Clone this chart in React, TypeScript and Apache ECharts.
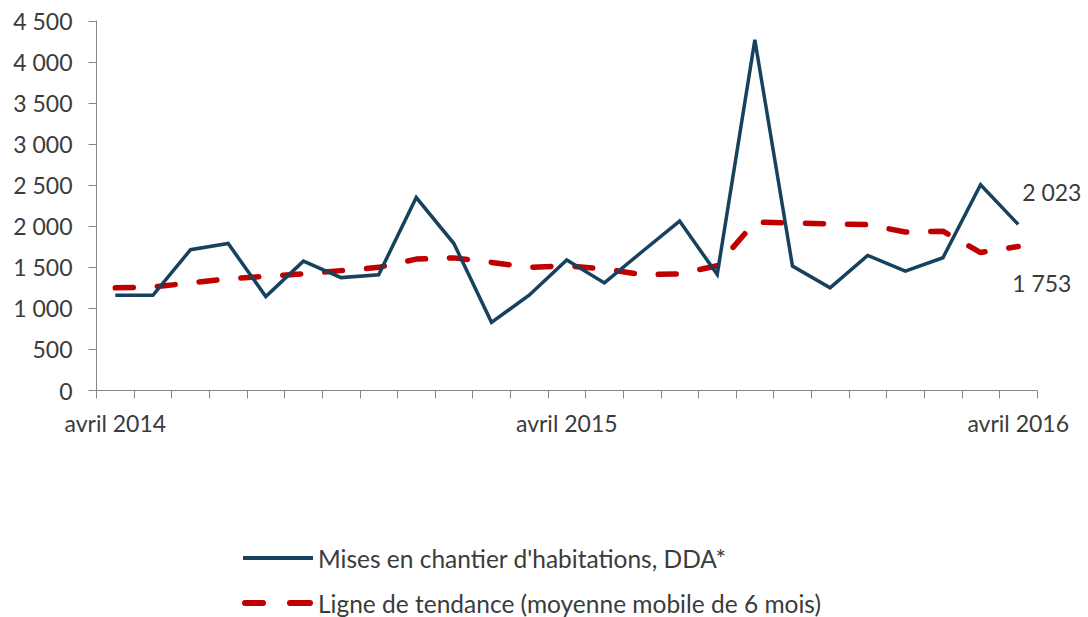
import React, { useEffect, useRef } from "react";
import * as echarts from "echarts";

const categories: string[] = [
  "avril 2014", "mai 2014", "juin 2014", "juillet 2014", "août 2014", "septembre 2014",
  "octobre 2014", "novembre 2014", "décembre 2014", "janvier 2015", "février 2015", "mars 2015",
  "avril 2015", "mai 2015", "juin 2015", "juillet 2015", "août 2015", "septembre 2015",
  "octobre 2015", "novembre 2015", "décembre 2015", "janvier 2016", "février 2016", "mars 2016",
  "avril 2016",
];
const starts: number[] = [1160, 1160, 1715, 1790, 1145, 1575, 1375, 1410, 2350, 1790, 830, 1160, 1590, 1310, 1690, 2063, 1413, 4270, 1515, 1250, 1645, 1455, 1617, 2506, 2023];
const trend: number[] = [1250, 1260, 1310, 1360, 1390, 1420, 1460, 1500, 1600, 1615, 1560, 1500, 1520, 1480, 1410, 1420, 1520, 2050, 2040, 2030, 2020, 1930, 1940, 1680, 1753];
const seriesNames = ["Mises en chantier d'habitations, DDA*", "Ligne de tendance (moyenne mobile de 6 mois)"];

const fmt = (v: number) => {
  const n = Math.round(v);
  if (n >= 1000) return `${Math.floor(n / 1000)} ${String(n % 1000).padStart(3, "0")}`;
  return String(n);
};

const FONT = "Lato";
const TXT = "#3b3b3b";
const BLUE = "#17425f";
const RED = "#c00000";

export default function App() {
  const ref = useRef<HTMLDivElement>(null);
  useEffect(() => {
    if (!ref.current) return;
    const chart = echarts.init(ref.current, undefined, { renderer: "svg" });
    const legendText = { fontFamily: FONT, fontSize: 24.5, color: TXT, lineHeight: 28 };
    chart.setOption({
      animation: false,
      backgroundColor: "#ffffff",
      textStyle: { fontFamily: FONT },
      grid: { left: 96.5, right: 51, top: 21, bottom: 226.5 },
      legend: [
        {
          orient: "horizontal",
          left: 238,
          top: 539,
          itemWidth: 70,
          itemHeight: 4,
          textStyle: legendText,
          data: [{ name: seriesNames[0], icon: "path://M0,0h70v4h-70z" }],
          selectedMode: false,
        },
        {
          orient: "horizontal",
          left: 237,
          top: 584,
          itemWidth: 71,
          itemHeight: 6,
          textStyle: legendText,
          data: [
            {
              name: seriesNames[1],
              icon: "path://M3,0h18a3,3 0 0 1 0,6h-18a3,3 0 0 1 0,-6z M48,0h20a3,3 0 0 1 0,6h-20a3,3 0 0 1 0,-6z",
            },
          ],
          selectedMode: false,
        },
      ],
      xAxis: {
        type: "category",
        data: categories,
        boundaryGap: true,
        axisLine: { show: true, lineStyle: { color: "#868686", width: 1 } },
        axisTick: { show: true, interval: 0, length: 8, lineStyle: { color: "#868686" } },
        axisLabel: { interval: 11, margin: 21, fontFamily: FONT, fontSize: 23, color: TXT },
        splitLine: { show: false },
      },
      yAxis: {
        type: "value",
        min: 0,
        max: 4500,
        interval: 500,
        axisLine: { show: true, lineStyle: { color: "#868686", width: 1 } },
        axisTick: { show: true, length: 8, lineStyle: { color: "#868686" } },
        axisLabel: { margin: 24, fontFamily: FONT, fontSize: 23, color: TXT, formatter: (v: number) => fmt(v) },
        splitLine: { show: false },
      },
      series: [
        {
          name: seriesNames[0],
          type: "line",
          data: starts,
          symbol: "none",
          z: 3,
          lineStyle: { color: BLUE, width: 3.5, join: "miter" },
          itemStyle: { color: BLUE },
          endLabel: {
            show: true,
            formatter: (p: any) => fmt(p.value),
            offset: [-4, -32],
            fontFamily: FONT,
            fontSize: 23,
            color: TXT,
          },
          markPoint: {
            symbol: "rect",
            symbolSize: 0,
            data: [{ type: "max" }],
            label: {
              show: true,
              position: "top",
              offset: [24, -42],
              formatter: (p: any) => fmt(p.value),
              fontFamily: FONT,
              fontSize: 23,
              color: "#c8c8c8",
            },
          },
        },
        {
          name: seriesNames[1],
          type: "line",
          data: trend,
          symbol: "none",
          z: 2,
          lineStyle: { color: RED, width: 5.5, type: [18, 24], cap: "round" },
          itemStyle: { color: RED },
          endLabel: {
            show: true,
            formatter: (p: any) => fmt(p.value),
            offset: [-14, 36],
            fontFamily: FONT,
            fontSize: 23,
            color: TXT,
          },
        },
      ],
    });
    return () => chart.dispose();
  }, []);
  return (
    <div
      ref={ref}
      style={{ position: "absolute", left: 0, top: 0, width: 1088, height: 617 }}
    />
  );
}
